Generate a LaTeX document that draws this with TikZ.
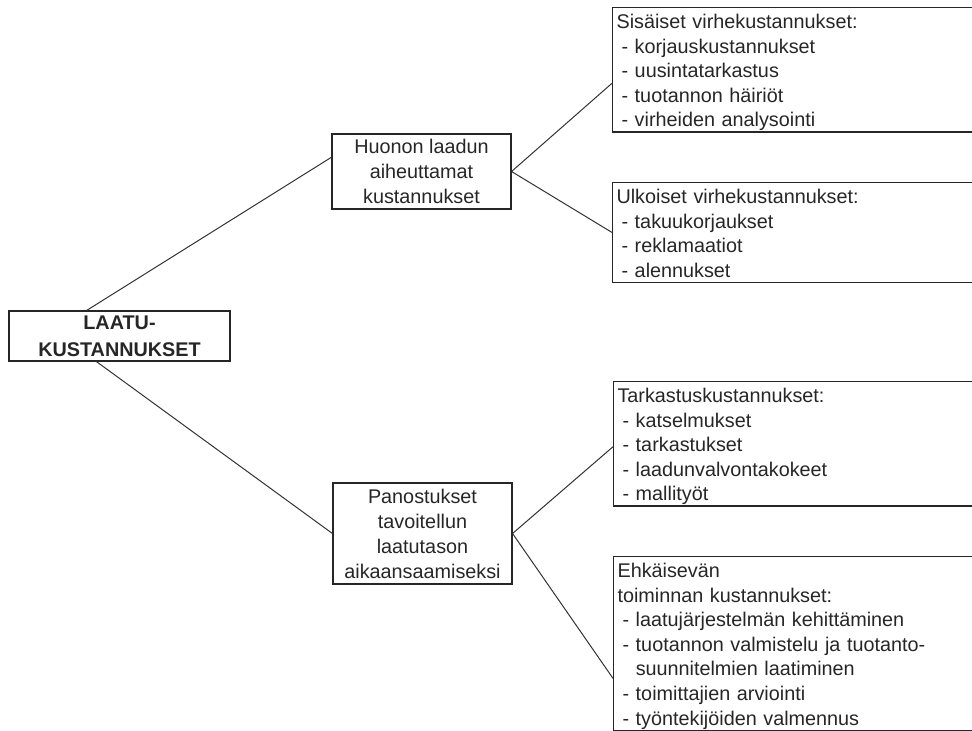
\documentclass[tikz,border=0pt]{standalone}
\usepackage{fontspec}
\setmainfont{Liberation Sans}
\newcommand{\itm}[1]{\hspace*{5pt}-\ #1}
\newcommand{\itmcont}[1]{\hspace*{5pt}\phantom{-\ }#1}
\newcommand{\lftop}{\rule{0pt}{21pt}}
\newcommand{\lfbot}{\rule[-5pt]{0pt}{5pt}}
\begin{document}
\begin{tikzpicture}[x = 1pt, y = -1pt,
	every node/.style = {text = black!85, font = \fontsize{19.8}{24.6}\selectfont},
	rootbox/.style = {draw = black!85, line width = 1.2pt, align = center, minimum width = 221pt, minimum height = 50pt, inner sep = 0pt, font = \fontsize{19.8}{27}\selectfont\bfseries},
	midbox/.style = {draw = black!85, line width = 1.1pt, align = center, minimum width = 179pt, inner sep = 0pt, font = \fontsize{19.8}{25}\selectfont},
	leafbox/.style = {draw = black!85, line width = 1.1pt, align = left, anchor = north west, text width = 354pt, inner xsep = 4pt, inner ysep = 0pt},
	link/.style = {draw = black!80, line width = 1pt}]
	\useasboundingbox (0,0) rectangle (972,731);
	
	% boxes
	\node[rootbox] (root) at (119.5,336) {LAATU-\\KUSTANNUKSET};
	
	\node[midbox, minimum height = 75pt] (huono) at (421.5,171.5) {Huonon laadun\\aiheuttamat\\kustannukset};
	\node[midbox, minimum height = 101pt] (panos) at (422.5,533.5) {Panostukset\\tavoitellun\\laatutason\\aikaansaamiseksi};
	
	\node[leafbox] (sisaiset) at (612,7) {\lftop Sisäiset virhekustannukset:\\\itm{korjauskustannukset}\\\itm{uusintatarkastus}\\\itm{tuotannon häiriöt}\\\itm{virheiden analysointi}\lfbot};
	\node[leafbox] (ulkoiset) at (612,182) {\lftop Ulkoiset virhekustannukset:\\\itm{takuukorjaukset}\\\itm{reklamaatiot}\\\itm{alennukset}\lfbot};
	\node[leafbox] (tarkastus) at (613,381) {\lftop Tarkastuskustannukset:\\\itm{katselmukset}\\\itm{tarkastukset}\\\itm{laadunvalvontakokeet}\\\itm{mallityöt}\lfbot};
	\node[leafbox] (ehkaisy) at (613,556) {\lftop Ehkäisevän\\toiminnan kustannukset:\\\itm{laatujärjestelmän kehittäminen}\\\itm{tuotannon valmistelu ja tuotanto-}\\\itmcont{suunnitelmien laatiminen}\\\itm{toimittajien arviointi}\\\itm{työntekijöiden valmennus}\lfbot};
	
	% links
	\draw[link] (root.142) -- (huono.171);
	\draw[link] (root.228) -- (panos.west);
	
	\draw[link] (huono.east) -- ([yshift=-13.5pt]sisaiset.west);
	\draw[link] (huono.east) -- (ulkoiset.west);
	
	\draw[link] (panos.east) -- ([yshift=-3pt]tarkastus.west);
	\draw[link] (panos.east) -- ([yshift=-35pt]ehkaisy.west);
	
\end{tikzpicture}
\end{document}
